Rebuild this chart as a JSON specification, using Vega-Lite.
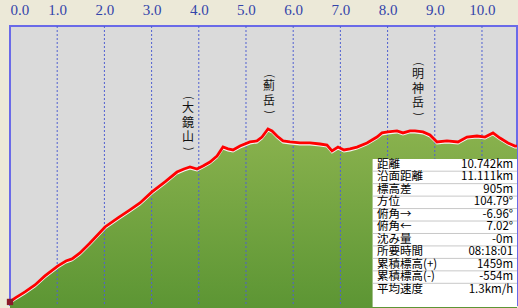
{
  "$schema": "https://vega.github.io/schema/vega-lite/v6.json",
  "width": 507,
  "height": 279,
  "autosize": {"type": "none"},
  "padding": {"left": 10, "top": 26, "right": 1, "bottom": 3},
  "background": "#ece9d8",
  "config": {"view": {"fill": "#dadada", "stroke": "#6a6ae8", "strokeWidth": 2}},
  "datasets": {
    "profile": [
      {"km": 0.0, "elev": 383}, {"km": 0.106, "elev": 406}, {"km": 0.318, "elev": 442},
      {"km": 0.53, "elev": 483}, {"km": 0.74, "elev": 536}, {"km": 1.017, "elev": 595},
      {"km": 1.186, "elev": 624}, {"km": 1.314, "elev": 636}, {"km": 1.483, "elev": 671},
      {"km": 1.695, "elev": 730}, {"km": 2.013, "elev": 824}, {"km": 2.288, "elev": 877},
      {"km": 2.542, "elev": 924}, {"km": 2.754, "elev": 965}, {"km": 3.008, "elev": 1030},
      {"km": 3.284, "elev": 1089}, {"km": 3.538, "elev": 1147}, {"km": 3.686, "elev": 1165},
      {"km": 3.814, "elev": 1177}, {"km": 3.962, "elev": 1165}, {"km": 4.089, "elev": 1183},
      {"km": 4.237, "elev": 1206}, {"km": 4.386, "elev": 1241}, {"km": 4.513, "elev": 1294},
      {"km": 4.619, "elev": 1283}, {"km": 4.725, "elev": 1277}, {"km": 4.873, "elev": 1300},
      {"km": 5.085, "elev": 1324}, {"km": 5.233, "elev": 1330}, {"km": 5.339, "elev": 1353},
      {"km": 5.466, "elev": 1400}, {"km": 5.551, "elev": 1389}, {"km": 5.657, "elev": 1359},
      {"km": 5.784, "elev": 1330}, {"km": 5.932, "elev": 1324}, {"km": 6.144, "elev": 1318},
      {"km": 6.356, "elev": 1318}, {"km": 6.568, "elev": 1312}, {"km": 6.716, "elev": 1306},
      {"km": 6.822, "elev": 1271}, {"km": 6.949, "elev": 1294}, {"km": 7.076, "elev": 1277},
      {"km": 7.203, "elev": 1283}, {"km": 7.352, "elev": 1294}, {"km": 7.564, "elev": 1318},
      {"km": 7.775, "elev": 1353}, {"km": 7.881, "elev": 1377}, {"km": 8.008, "elev": 1383},
      {"km": 8.199, "elev": 1389}, {"km": 8.326, "elev": 1377}, {"km": 8.475, "elev": 1389},
      {"km": 8.581, "elev": 1389}, {"km": 8.75, "elev": 1383}, {"km": 8.898, "elev": 1365},
      {"km": 9.047, "elev": 1324}, {"km": 9.258, "elev": 1330}, {"km": 9.492, "elev": 1324},
      {"km": 9.682, "elev": 1353}, {"km": 9.894, "elev": 1359}, {"km": 10.064, "elev": 1353},
      {"km": 10.233, "elev": 1377}, {"km": 10.381, "elev": 1347}, {"km": 10.551, "elev": 1318},
      {"km": 10.699, "elev": 1300}, {"km": 10.742, "elev": 1300}
    ],
    "grid": [
      {"km": 1}, {"km": 2}, {"km": 3}, {"km": 4}, {"km": 5},
      {"km": 6}, {"km": 7}, {"km": 8}, {"km": 9}, {"km": 10}
    ],
    "peaks": [
      {"name": "大\n鏡\n山", "km": 3.771, "top": 1553, "ptop": 1583, "pbot": 1283},
      {"name": "薊\n岳", "km": 5.487, "top": 1682, "ptop": 1712, "pbot": 1500},
      {"name": "明\n神\n岳", "km": 8.644, "top": 1753, "ptop": 1782, "pbot": 1488}
    ],
    "stats": [
      {"row": 0, "label": "距離", "value": "10.742km"},
      {"row": 1, "label": "沿面距離", "value": "11.111km"},
      {"row": 2, "label": "標高差", "value": "905m"},
      {"row": 3, "label": "方位", "value": "104.79°"},
      {"row": 4, "label": "俯角→", "value": "-6.96°"},
      {"row": 5, "label": "俯角←", "value": "7.02°"},
      {"row": 6, "label": "沈み量", "value": "-0m"},
      {"row": 7, "label": "所要時間", "value": "08:18:01"},
      {"row": 8, "label": "累積標高(+)", "value": "1459m"},
      {"row": 9, "label": "累積標高(-)", "value": "-554m"},
      {"row": 10, "label": "平均速度", "value": "1.3km/h"}
    ]
  },
  "layer": [
    {
      "layer": [
        {
          "data": {"name": "profile"},
          "mark": {
            "type": "area",
            "fill": {
              "gradient": "linear", "x1": 0, "y1": 0, "x2": 0, "y2": 1,
              "stops": [{"offset": 0, "color": "#8ab24e"}, {"offset": 1, "color": "#4d8c2b"}]
            }
          },
          "encoding": {
            "x": {
              "field": "km", "type": "quantitative",
              "scale": {"domain": [0, 10.742], "nice": false, "zero": false},
              "axis": {
                "orient": "top", "values": [0, 1, 2, 3, 4, 5, 6, 7, 8, 9, 10], "format": ".1f",
                "ticks": false, "tickSize": 0, "domain": false, "grid": false, "title": null,
                "labelFont": "Liberation Serif", "labelFontSize": 15, "labelColor": "#3344aa",
                "labelPadding": 9, "labelFlush": true
              }
            },
            "y": {
              "field": "elev", "type": "quantitative",
              "scale": {"domain": [365, 2006], "nice": false, "zero": false},
              "axis": null
            }
          }
        },
        {
          "data": {"name": "grid"},
          "mark": {"type": "rule", "color": "#5060d0", "strokeDash": [2, 2], "strokeWidth": 1},
          "encoding": {"x": {"field": "km", "type": "quantitative"}}
        },
        {
          "data": {"name": "profile"},
          "mark": {"type": "line", "color": "#f4f4f4", "strokeWidth": 2, "yOffset": 1.5},
          "encoding": {
            "x": {"field": "km", "type": "quantitative"},
            "y": {"field": "elev", "type": "quantitative"}
          }
        },
        {
          "data": {"name": "profile"},
          "mark": {"type": "line", "color": "#ff0000", "strokeWidth": 2.8},
          "encoding": {
            "x": {"field": "km", "type": "quantitative"},
            "y": {"field": "elev", "type": "quantitative"}
          }
        },
        {
          "data": {"name": "profile"},
          "transform": [{"filter": "datum.km == 0"}],
          "mark": {"type": "point", "shape": "square", "filled": true, "size": 40, "color": "#8b1a2a", "opacity": 1},
          "encoding": {
            "x": {"field": "km", "type": "quantitative"},
            "y": {"field": "elev", "type": "quantitative"}
          }
        },
        {
          "data": {"name": "peaks"},
          "mark": {
            "type": "text", "lineBreak": "\n", "font": "Noto Sans CJK JP", "fontSize": 12,
            "lineHeight": 14.5, "baseline": "top", "align": "center", "color": "#111111"
          },
          "encoding": {
            "x": {"field": "km", "type": "quantitative"},
            "y": {"field": "top", "type": "quantitative"},
            "text": {"field": "name"}
          }
        },
        {
          "data": {"name": "peaks"},
          "mark": {
            "type": "text", "font": "Noto Sans CJK JP", "fontSize": 11, "angle": 90,
            "baseline": "middle", "align": "center", "color": "#111111"
          },
          "encoding": {
            "x": {"field": "km", "type": "quantitative"},
            "y": {"field": "ptop", "type": "quantitative"},
            "text": {"value": "("}
          }
        },
        {
          "data": {"name": "peaks"},
          "mark": {
            "type": "text", "font": "Noto Sans CJK JP", "fontSize": 11, "angle": 90,
            "baseline": "middle", "align": "center", "color": "#111111"
          },
          "encoding": {
            "x": {"field": "km", "type": "quantitative"},
            "y": {"field": "pbot", "type": "quantitative"},
            "text": {"value": ")"}
          }
        }
      ]
    },
    {
      "data": {"name": "stats"},
      "layer": [
        {
          "mark": {"type": "rect", "color": "#ffffff"},
          "encoding": {
            "x": {"datum": 7.69, "type": "quantitative"},
            "x2": {"datum": 10.742},
            "y": {
              "datum": -0.46, "type": "quantitative",
              "scale": {"domain": [-11.16, 11.24], "nice": false, "zero": false, "reverse": true},
              "axis": null
            },
            "y2": {"datum": 11.4}
          }
        },
        {
          "transform": [{"filter": "datum.row < 10"}],
          "mark": {"type": "rule", "color": "#c8c8c8", "strokeWidth": 1, "yOffset": 6.2},
          "encoding": {
            "x": {"datum": 7.69, "type": "quantitative"},
            "x2": {"datum": 10.742},
            "y": {"field": "row", "type": "quantitative"}
          }
        },
        {
          "mark": {"type": "text", "font": "Noto Sans CJK JP", "fontSize": 11.5, "align": "left", "baseline": "middle", "color": "#000000"},
          "encoding": {
            "x": {"datum": 7.776, "type": "quantitative"},
            "y": {"field": "row", "type": "quantitative"},
            "text": {"field": "label"}
          }
        },
        {
          "mark": {"type": "text", "font": "Noto Sans CJK JP", "fontSize": 11.5, "align": "right", "baseline": "middle", "color": "#000000"},
          "encoding": {
            "x": {"datum": 10.66, "type": "quantitative"},
            "y": {"field": "row", "type": "quantitative"},
            "text": {"field": "value"}
          }
        }
      ]
    }
  ],
  "resolve": {"scale": {"y": "independent"}}
}
